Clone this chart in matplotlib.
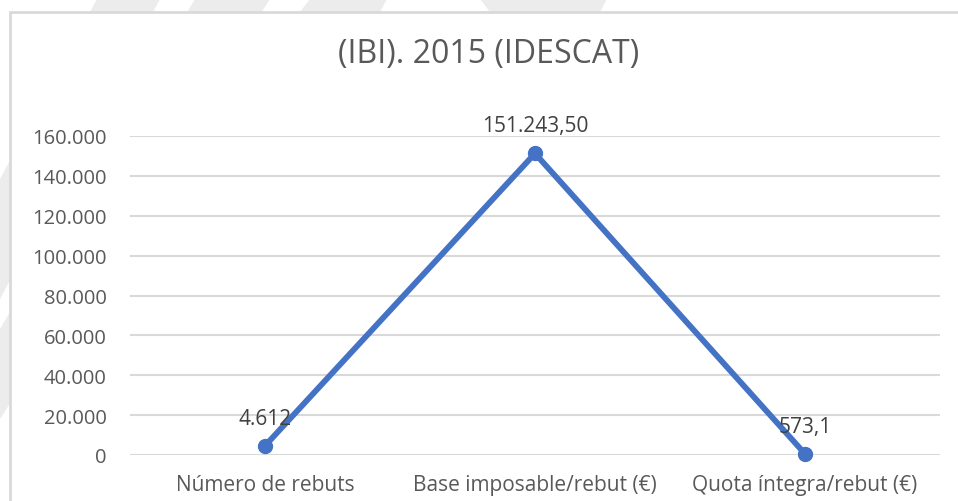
import matplotlib.pyplot as plt
from matplotlib.patches import Rectangle, Polygon
from matplotlib.ticker import FuncFormatter

categories = ['Número de rebuts', 'Base imposable/rebut (€)', 'Quota íntegra/rebut (€)']
values = [4612, 151243.50, 573.1]
value_labels = ['4.612', '151.243,50', '573,1']
title = '(IBI). 2015 (IDESCAT)'

plt.rcParams['font.family'] = ['Open Sans', 'DejaVu Sans']
text_color = '#595959'

fig = plt.figure(figsize=(9.58, 5.02), dpi=100)

# faint watermark shapes around the chart box (pixel coords -> figure fraction)
def px(x, y):
    return (x / 958, 1 - y / 502)

wm = '#ececec'
for pts in [
    [(97, 0), (160, 0), (0, 300), (0, 180)],
    [(195, 0), (270, 0), (0, 420), (0, 330)],
    [(310, 0), (387, 0), (380, 13), (300, 13)],
    [(480, 0), (607, 0), (600, 13), (490, 13)],
]:
    fig.patches.append(Polygon([px(*p) for p in pts], closed=True,
                               transform=fig.transFigure, facecolor=wm,
                               edgecolor='none', zorder=0))

# chart box
fig.patches.append(Rectangle(px(10, 520), 960 / 958, (520 - 13) / 502,
                             transform=fig.transFigure, facecolor='white',
                             edgecolor='#d9d9d9', linewidth=2, zorder=1))

ax = fig.add_axes([130 / 958, 1 - 456 / 502, 810 / 958, 319 / 502])
ax.set_facecolor('none')
ax.set_zorder(2)

x = range(len(categories))
ax.plot(x, values, color='#4472C4', linewidth=4.2, marker='o', markersize=10,
        solid_capstyle='round', zorder=3, clip_on=False)

for xi, v, lab in zip(x, values, value_labels):
    ax.annotate(lab, (xi, v), xytext=(0, 20), textcoords='offset points',
                ha='center', va='center', fontsize=15, color='#404040', zorder=4)

ax.set_xlim(-0.5, 2.5)
ax.set_ylim(0, 160000)
ax.set_yticks(range(0, 160001, 20000))
ax.yaxis.set_major_formatter(FuncFormatter(lambda v, p: f'{int(v):,}'.replace(',', '.')))
ax.set_xticks(list(x))
ax.set_xticklabels(categories)
ax.grid(axis='y', color='#d9d9d9', linewidth=1.5)
ax.set_axisbelow(True)
for s in ax.spines.values():
    s.set_visible(False)
ax.tick_params(length=0, labelsize=14.5, colors=text_color)
ax.tick_params(axis='x', labelsize=15, pad=14)
ax.tick_params(axis='y', pad=17)

fig.text(489 / 958, 1 - 55 / 502, title, ha='center', va='center',
         fontsize=23, color=text_color, zorder=5)

fig.savefig('out.png', dpi=100)
